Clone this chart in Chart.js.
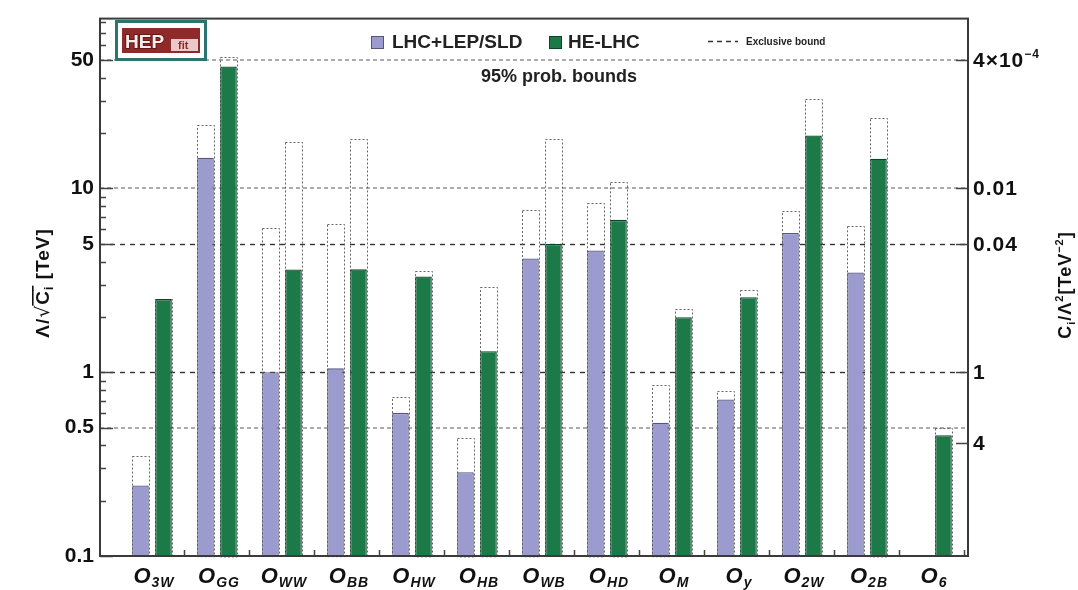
<!DOCTYPE html>
<html>
<head>
<meta charset="utf-8">
<script src="https://cdn.jsdelivr.net/npm/chart.js@4.4.0/dist/chart.umd.min.js"></script>
<style>
  html, body { margin: 0; padding: 0; background: #fff; }
  #wrap { width: 1078px; height: 590px; }
</style>
</head>
<body>
<div id="wrap"><canvas id="chart" width="1078" height="590"></canvas></div>
<script>
// operator subscripts along the x axis
const operators = ['3W', 'GG', 'WW', 'BB', 'HW', 'HB', 'WB', 'HD', 'M', 'y', '2W', '2B', '6'];

// Λ/√C_i [TeV], 95% prob. bounds
const lhcLep = [0.242, 14.7, 1.0, 1.05, 0.601, 0.286, 4.16, 4.60, 0.531, 0.710, 5.72, 3.49, null];
const heLhc  = [2.50, 46.1, 3.62, 3.63, 3.32, 1.30, 4.99, 6.75, 1.99, 2.56, 19.4, 14.5, 0.454];

// exclusive bounds (dashed boxes)
const lhcLepExcl = [0.348, 22.2, 6.09, 6.42, 0.731, 0.441, 7.66, 8.37, 0.855, 0.787, 7.52, 6.24, null];
const heLhcExcl  = [2.50, 52.2, 17.9, 18.6, 3.57, 2.92, 18.6, 10.9, 2.21, 2.79, 30.5, 24.3, 0.497];

// left axis labels, right axis labels (C_i/Λ²) and where they sit on the left scale
const leftTicks = [0.1, 0.5, 1, 5, 10, 50];
const rightTickPos = [50, 10, 5, 1, 0.41];
const rightTickText = [['4\u00d710', '\u22124'], ['0.01'], ['0.04'], ['1'], ['4']];

// dotted guide lines
const gridLight = [50, 10, 0.5];
const gridDark = [5, 1];

const FONT = '"Liberation Sans", Arial, Helvetica, sans-serif';
const PURPLE = '#9b9bcf', PURPLE_EDGE = '#55557d';
const GREEN = '#1c7a49', GREEN_EDGE = '#0b4526';

const toXY = arr => arr.map((v, i) => ({ x: i, y: v }));

function richWidth(ctx, parts) {
  let w = 0;
  parts.forEach(p => { ctx.font = p.font; w += ctx.measureText(p.text).width; });
  return w;
}

function drawRich(ctx, parts, x, y, align) {
  const w = richWidth(ctx, parts);
  let cx = align === 'center' ? x - w / 2 : align === 'right' ? x - w : x;
  ctx.textAlign = 'left';
  ctx.textBaseline = 'alphabetic';
  parts.forEach(p => {
    ctx.font = p.font;
    const tw = ctx.measureText(p.text).width;
    ctx.fillText(p.text, cx, y + (p.dy || 0));
    if (p.over) {
      ctx.fillRect(cx - 1, y - p.over, tw + 1, 1.6);
    }
    cx += tw;
  });
}

function hline(ctx, a, py, color, width, dash) {
  ctx.save();
  ctx.strokeStyle = color;
  ctx.lineWidth = width;
  ctx.setLineDash(dash);
  ctx.beginPath();
  ctx.moveTo(a.left, py);
  ctx.lineTo(a.right, py);
  ctx.stroke();
  ctx.restore();
}

const decor = {
  id: 'decor',
  beforeDatasetsDraw(chart) {
    const { ctx, chartArea: a, scales: { y } } = chart;
    gridLight.forEach(v => hline(ctx, a, Math.round(y.getPixelForValue(v)), '#ababab', 2, [4, 3]));
    gridDark.forEach(v => hline(ctx, a, Math.round(y.getPixelForValue(v)) + 0.5, '#333', 1.4, [5, 5]));

    // exclusive bound boxes sit behind the filled bars
    ctx.save();
    ctx.strokeStyle = '#666';
    ctx.lineWidth = 1;
    ctx.setLineDash([2, 2]);
    [lhcLepExcl, heLhcExcl].forEach((excl, di) => {
      const meta = chart.getDatasetMeta(di);
      meta.data.forEach((bar, i) => {
        if (excl[i] == null) return;
        const { x, width, base } = bar.getProps(['x', 'width', 'base'], true);
        const top = y.getPixelForValue(excl[i]);
        ctx.strokeRect(Math.round(x - width / 2) + 0.5, Math.round(top) + 0.5, Math.round(width), base - top);
      });
    });
    ctx.restore();
  },
  afterDatasetsDraw(chart) {
    const { ctx, chartArea: a, scales: { x, y } } = chart;
    ctx.save();
    ctx.fillStyle = '#111';
    ctx.strokeStyle = '#444';

    // inward tick marks on the left axis
    ctx.lineWidth = 1.5;
    ctx.beginPath();
    [0.1, 1, 10].forEach(dec => {
      for (let k = 1; k <= 9; k++) {
        const v = dec * k;
        if (v > y.max) break;
        const py = Math.round(y.getPixelForValue(v)) + 0.5;
        const len = leftTicks.includes(+v.toPrecision(3)) ? 13 : 6;
        ctx.moveTo(a.left, py);
        ctx.lineTo(a.left + len, py);
      }
    });
    // right axis
    rightTickPos.forEach(v => {
      const py = Math.round(y.getPixelForValue(v)) + 0.5;
      ctx.moveTo(a.right, py);
      ctx.lineTo(a.right - 12, py);
    });
    // bottom axis, between operator groups
    for (let i = 0; i < operators.length; i++) {
      const px = Math.round(x.getPixelForValue(i + 0.5)) + 0.5;
      ctx.moveTo(px, a.bottom);
      ctx.lineTo(px, a.bottom - 6);
    }
    ctx.stroke();

    // frame
    ctx.lineWidth = 2;
    ctx.strokeStyle = '#3a3a3a';
    ctx.strokeRect(a.left, a.top, a.right - a.left, a.bottom - a.top);

    // operator labels
    ctx.letterSpacing = '1px';
    operators.forEach((op, i) => {
      drawRich(ctx, [
        { text: 'O', font: 'italic bold 22px ' + FONT },
        { text: op, font: 'italic bold 14px ' + FONT, dy: 4 }
      ], x.getPixelForValue(i) + 2, 583, 'center');
    });

    // right axis labels
    rightTickPos.forEach((v, i) => {
      const py = y.getPixelForValue(v) + 7;
      const t = rightTickText[i];
      const parts = [{ text: t[0], font: 'bold 21px ' + FONT }];
      if (t[1]) parts.push({ text: t[1], font: 'bold 12px ' + FONT, dy: -9 });
      drawRich(ctx, parts, a.right + 5, py, 'left');
    });

    // axis titles
    ctx.save();
    ctx.translate(49, 283);
    ctx.rotate(-Math.PI / 2);
    drawRich(ctx, [
      { text: '\u039b/', font: 'bold 19px ' + FONT },
      { text: '\u221a', font: '19px "DejaVu Sans", ' + FONT },
      { text: 'C', font: 'bold 19px ' + FONT, over: 17 },
      { text: 'i', font: 'bold 12px ' + FONT, dy: 4, over: 17 },
      { text: ' [TeV]', font: 'bold 19px ' + FONT }
    ], 0, 0, 'center');
    ctx.restore();

    ctx.save();
    ctx.translate(1071, 285);
    ctx.rotate(-Math.PI / 2);
    drawRich(ctx, [
      { text: 'C', font: 'bold 18px ' + FONT },
      { text: 'i', font: 'bold 11px ' + FONT, dy: 4 },
      { text: '/\u039b', font: 'bold 18px ' + FONT },
      { text: '2', font: 'bold 11px ' + FONT, dy: -8 },
      { text: '[TeV', font: 'bold 18px ' + FONT },
      { text: '\u22122', font: 'bold 11px ' + FONT, dy: -8 },
      { text: ']', font: 'bold 18px ' + FONT }
    ], 0, 0, 'center');
    ctx.restore();
    ctx.letterSpacing = '0px';

    // legend
    ctx.lineWidth = 1;
    ctx.fillStyle = PURPLE;
    ctx.fillRect(371, 36, 12, 12);
    ctx.strokeStyle = PURPLE_EDGE;
    ctx.strokeRect(371.5, 36.5, 12, 12);
    ctx.fillStyle = GREEN;
    ctx.fillRect(549, 36, 12, 12);
    ctx.strokeStyle = GREEN_EDGE;
    ctx.strokeRect(549.5, 36.5, 12, 12);
    ctx.fillStyle = '#222';
    ctx.font = 'bold 19px ' + FONT;
    ctx.textAlign = 'left';
    ctx.textBaseline = 'alphabetic';
    ctx.fillText('LHC+LEP/SLD', 392, 48);
    ctx.fillText('HE-LHC', 568, 48);
    ctx.strokeStyle = '#333';
    ctx.setLineDash([5, 4]);
    ctx.lineWidth = 1.5;
    ctx.beginPath();
    ctx.moveTo(708, 41.5);
    ctx.lineTo(738, 41.5);
    ctx.stroke();
    ctx.setLineDash([]);
    ctx.font = 'bold 10px ' + FONT;
    ctx.fillText('Exclusive bound', 746, 45);
    ctx.font = 'bold 18px ' + FONT;
    ctx.textAlign = 'center';
    ctx.fillText('95% prob. bounds', 559, 82);

    // HEPfit badge
    ctx.fillStyle = '#fff';
    ctx.fillRect(115, 20, 92, 41);
    ctx.strokeStyle = '#2c7470';
    ctx.lineWidth = 3;
    ctx.strokeRect(116.5, 21.5, 89, 38);
    ctx.fillStyle = '#8e2a2a';
    ctx.fillRect(122, 28, 78, 25);
    ctx.fillStyle = '#e9c9c9';
    ctx.fillRect(171, 39, 27, 12);
    ctx.textAlign = 'left';
    ctx.font = 'bold 19px ' + FONT;
    ctx.lineWidth = 2;
    ctx.strokeStyle = '#6e1515';
    ctx.strokeText('HEP', 125, 48);
    ctx.fillStyle = '#f4eded';
    ctx.fillText('HEP', 125, 48);
    ctx.fillStyle = '#8e2a2a';
    ctx.font = 'bold 11px ' + FONT;
    ctx.fillText('fit', 178, 49);

    ctx.restore();
  }
};

new Chart(document.getElementById('chart'), {
  type: 'bar',
  data: {
    datasets: [
      {
        label: 'LHC+LEP/SLD',
        data: toXY(lhcLep),
        backgroundColor: PURPLE,
        borderColor: PURPLE_EDGE,
        borderWidth: 1.3
      },
      {
        label: 'HE-LHC',
        data: toXY(heLhc),
        backgroundColor: GREEN,
        borderColor: GREEN_EDGE,
        borderWidth: 1.3
      }
    ]
  },
  options: {
    responsive: false,
    animation: false,
    devicePixelRatio: 1,
    categoryPercentage: 0.708,
    barPercentage: 0.72,
    layout: { padding: { top: 13, right: 110, left: 0, bottom: 0 } },
    plugins: {
      legend: { display: false },
      tooltip: { enabled: false }
    },
    scales: {
      x: {
        type: 'linear',
        offset: false,
        min: -0.8,
        max: 12.554,
        grid: { display: false, drawTicks: false },
        border: { display: false },
        afterBuildTicks: s => { s.ticks = operators.map((_, i) => ({ value: i })); },
        ticks: { display: false },
        afterFit: s => { s.height = 34; }
      },
      y: {
        type: 'logarithmic',
        min: 0.1,
        max: 84,
        grid: { display: false, drawTicks: false },
        border: { display: false },
        afterBuildTicks: s => { s.ticks = leftTicks.map(v => ({ value: v })); },
        ticks: {
          autoSkip: false,
          padding: 6,
          color: '#111',
          font: { family: FONT, size: 21, weight: 'bold' },
          callback: v => String(v)
        },
        afterFit: s => { s.width = 100; }
      }
    }
  },
  plugins: [decor]
});
</script>
</body>
</html>
